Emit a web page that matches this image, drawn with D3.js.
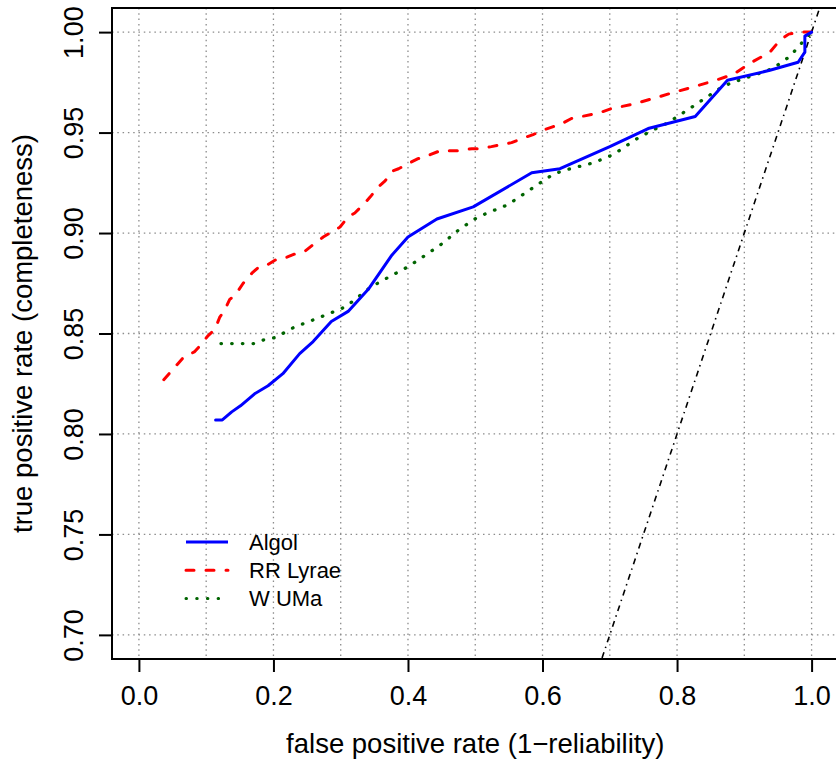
<!DOCTYPE html>
<html>
<head>
<meta charset="utf-8">
<script src="https://cdn.jsdelivr.net/npm/d3@7"></script>
<style>
  body { margin: 0; background: #fff; }
  text { font-family: "Liberation Sans", Arial, Helvetica, sans-serif; fill: #000; }
</style>
</head>
<body>
<div id="chart"></div>
<script>
// ROC-style curves: false positive rate vs true positive rate
var seriesNames = ["Algol", "RR Lyrae", "W UMa"];

var algolFpr = [0.114,0.124,0.138,0.151,0.172,0.192,0.214,0.239,0.259,0.286,0.311,0.341,0.376,0.400,0.443,0.497,0.584,0.626,0.700,0.757,0.827,0.875,0.938,0.980,0.990,0.990,1.000];
var algolTpr = [0.807,0.807,0.811,0.814,0.820,0.824,0.830,0.840,0.846,0.856,0.861,0.872,0.889,0.898,0.907,0.913,0.930,0.932,0.943,0.952,0.958,0.976,0.981,0.985,0.990,0.998,1.000];

var rrFpr = [0.037,0.058,0.066,0.083,0.091,0.103,0.113,0.120,0.128,0.135,0.143,0.155,0.168,0.178,0.190,0.205,0.220,0.235,0.247,0.262,0.274,0.289,0.299,0.311,0.321,0.336,0.344,0.356,0.366,0.378,0.386,0.403,0.415,0.433,0.448,0.463,0.477,0.495,0.507,0.524,0.539,0.554,0.569,0.586,0.599,0.616,0.626,0.643,0.658,0.673,0.686,0.703,0.733,0.765,0.795,0.827,0.857,0.884,0.911,0.938,0.953,0.966,0.983,1.000];
var rrTpr = [0.827,0.835,0.838,0.841,0.844,0.849,0.852,0.858,0.862,0.867,0.869,0.875,0.880,0.883,0.884,0.887,0.888,0.890,0.891,0.895,0.898,0.901,0.903,0.908,0.910,0.915,0.918,0.923,0.926,0.931,0.932,0.935,0.937,0.939,0.941,0.941,0.941,0.942,0.942,0.943,0.944,0.945,0.947,0.949,0.951,0.953,0.954,0.957,0.958,0.959,0.960,0.962,0.964,0.967,0.970,0.973,0.976,0.979,0.985,0.990,0.996,0.999,1.000,1.000];

var wumaFpr = [0.122,0.171,0.187,0.203,0.230,0.261,0.291,0.305,0.318,0.344,0.371,0.399,0.426,0.452,0.477,0.504,0.533,0.548,0.601,0.615,0.630,0.676,0.705,0.745,0.787,0.828,0.868,0.883,0.927,0.943,0.968,0.989,1.000];
var wumaTpr = [0.845,0.845,0.847,0.848,0.853,0.857,0.861,0.863,0.866,0.873,0.878,0.883,0.889,0.895,0.902,0.908,0.912,0.914,0.926,0.929,0.931,0.935,0.939,0.948,0.955,0.964,0.973,0.975,0.980,0.982,0.988,0.996,1.000];

var xTicks = [0, 0.2, 0.4, 0.6, 0.8, 1.0];
var yTicks = [0.70, 0.75, 0.80, 0.85, 0.90, 0.95, 1.00];
var xGrid = d3.range(0, 11).map(function(i){ return i / 10; });

var W = 836, H = 764;
var plot = {left: 112, right: 838.5, top: 8, bottom: 659};

var x = d3.scaleLinear().domain([-0.04, 1.04]).range([plot.left, plot.right]);
var y = d3.scaleLinear().domain([0.688, 1.012]).range([plot.bottom, plot.top]);

var svg = d3.select("#chart").append("svg")
  .attr("width", W).attr("height", H);

svg.append("defs").append("clipPath").attr("id", "clip")
  .append("rect")
  .attr("x", plot.left).attr("y", plot.top)
  .attr("width", plot.right - plot.left).attr("height", plot.bottom - plot.top);

//grid
var grid = svg.append("g")
  .attr("stroke", "#8c8c8c").attr("stroke-width", 1.3)
  .attr("stroke-dasharray", "1.5,3.8");
grid.selectAll("line.v").data(xGrid).enter().append("line")
  .attr("x1", function(d){ return x(d); }).attr("x2", function(d){ return x(d); })
  .attr("y1", plot.top).attr("y2", plot.bottom);
grid.selectAll("line.h").data(yTicks).enter().append("line")
  .attr("y1", function(d){ return y(d); }).attr("y2", function(d){ return y(d); })
  .attr("x1", plot.left).attr("x2", plot.right);

var main = svg.append("g").attr("clip-path", "url(#clip)");

//diagonal y = x
main.append("line")
  .attr("x1", x(0.6)).attr("y1", y(0.6))
  .attr("x2", x(1.04)).attr("y2", y(1.04))
  .attr("stroke", "#000").attr("stroke-width", 1.6)
  .attr("stroke-dasharray", "1.5,4.5,6,4.5");

var line = d3.line()
  .x(function(d){ return x(d[0]); })
  .y(function(d){ return y(d[1]); });

var styles = [
  {color: "#0000ff", dash: null, cap: "round"},
  {color: "#ff0000", dash: "8,12", cap: "round"},
  {color: "#006400", dash: "0.5,10.2", cap: "round"}
];
var series = [
  d3.zip(algolFpr, algolTpr),
  d3.zip(rrFpr, rrTpr),
  d3.zip(wumaFpr, wumaTpr)
];

// draw W UMa first, then RR Lyrae, then Algol on top
[2, 1, 0].forEach(function(i){
  main.append("path")
    .datum(series[i])
    .attr("d", line)
    .attr("fill", "none")
    .attr("stroke", styles[i].color)
    .attr("stroke-width", i == 2 ? 3.3 : 3)
    .attr("stroke-linejoin", "round")
    .attr("stroke-linecap", styles[i].cap)
    .attr("stroke-dasharray", styles[i].dash);
});

//box
svg.append("rect")
  .attr("x", plot.left).attr("y", plot.top)
  .attr("width", plot.right - plot.left).attr("height", plot.bottom - plot.top)
  .attr("fill", "none").attr("stroke", "#000").attr("stroke-width", 2);

//axes
var xAxis = d3.axisBottom(x).tickValues(xTicks).tickSize(13).tickPadding(20)
  .tickFormat(d3.format(".1f"));
var gx = svg.append("g").attr("transform", "translate(0," + plot.bottom + ")").call(xAxis);
gx.select(".domain").attr("d", "M" + x(0) + ",0H" + x(1)).attr("stroke-width", 2);
gx.selectAll(".tick line").attr("stroke-width", 2);
gx.selectAll(".tick text").attr("font-size", 27).attr("dy", null).attr("y", 46)
  .style("font-family", "'Liberation Sans', Arial, sans-serif");

var yAxis = d3.axisLeft(y).tickValues(yTicks).tickSize(13)
  .tickFormat(d3.format(".2f"));
var gy = svg.append("g").attr("transform", "translate(" + plot.left + ",0)").call(yAxis);
gy.select(".domain").attr("d", "M0," + y(0.7) + "V" + y(1.0)).attr("stroke-width", 2);
gy.selectAll(".tick line").attr("stroke-width", 2);
gy.selectAll(".tick text")
  .attr("font-size", 27)
  .attr("x", null).attr("dy", null)
  .attr("text-anchor", "middle")
  .attr("transform", "translate(-29,0) rotate(-90)")
  .style("font-family", "'Liberation Sans', Arial, sans-serif");

//axis titles
svg.append("text")
  .attr("x", (plot.left + plot.right) / 2).attr("y", 753)
  .attr("text-anchor", "middle").attr("font-size", 27.5)
  .text("false positive rate (1\u2212reliability)");
svg.append("text")
  .attr("transform", "translate(32," + ((plot.top + plot.bottom) / 2) + ") rotate(-90)")
  .attr("text-anchor", "middle").attr("font-size", 27.5)
  .text("true positive rate (completeness)");

//legend
var legend = svg.append("g");
seriesNames.forEach(function(name, i){
  var ly = 542 + i * 28.2;
  legend.append("line")
    .attr("x1", 186).attr("x2", 228).attr("y1", ly).attr("y2", ly)
    .attr("stroke", styles[i].color).attr("stroke-width", 3)
    .attr("stroke-linecap", i == 0 ? "butt" : "round")
    .attr("stroke-dasharray", styles[i].dash);
  legend.append("text")
    .attr("x", 249).attr("y", ly + 8)
    .attr("font-size", 22)
    .text(name);
});
</script>
</body>
</html>
